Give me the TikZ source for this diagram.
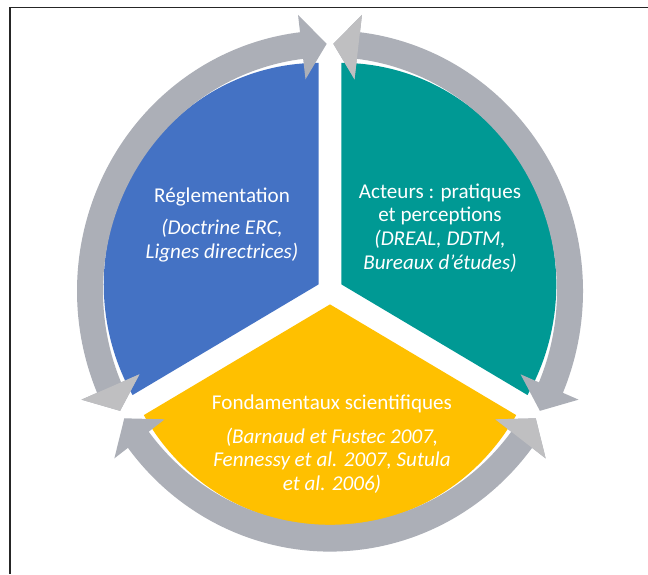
\documentclass[tikz,border=0pt]{standalone}
\usepackage{fontspec}
\setmainfont{Carlito}
\definecolor{regblue}{RGB}{68,114,196}
\definecolor{actteal}{RGB}{0,153,148}
\definecolor{fondyellow}{RGB}{255,192,0}
\definecolor{ringgray}{RGB}{172,175,183}
\definecolor{headgray}{RGB}{191,191,193}
\newcommand\ringarc[2]{%
  \fill[ringgray] (#1:240) -- (#1+6:270) -- (#1+6:253)
    arc[start angle=#1+6, end angle=#2-6, radius=253]
    -- (#2-6:270) -- (#2:240) -- (#2-6:207) -- (#2-6:227)
    arc[start angle=#2-6, end angle=#1+6, radius=227]
    -- (#1+6:207) -- cycle;
  \fill[headgray] (#2-6:270) -- (#2:240) -- (#2-6:207) -- cycle;}
\newcommand\piepart[3]{%
  \fill[#3] (#1/2+#2/2:13) -- ++(#1:215)
    arc[start angle=#1, end angle=#2, radius=215] -- cycle;}

\begin{document}
\begin{tikzpicture}[x=0.02cm, y=0.02cm,
  label/.style={text=white, align=center, font=\fontsize{12pt}{13.5pt}\selectfont}]
  \useasboundingbox (0,0) rectangle (648,574);
  \fill[white] (0,0) rectangle (648,574);
  \draw[line width=1.1pt, black!85] (648,566.5) -- (10,566.5) -- (10,0);

  \begin{scope}[shift={(330,283)}, yscale=1.03]
    \coordinate (c) at (0,0);
    \piepart{90}{210}{regblue}
    \piepart{-30}{90}{actteal}
    \piepart{210}{330}{fondyellow}
    \ringarc{90.8}{209}
    \ringarc{-29}{89.2}
    \ringarc{211}{329}
  \end{scope}

  \node[label] (reg) at (222,349)
    {Réglementation\\[5pt]\textit{(Doctrine ERC,}\\\textit{Lignes directrices)}};
  \node[label] (act) at (440,346)
    {Acteurs : pratiques\\et perceptions\\\textit{(DREAL, DDTM,}\\\textit{Bureaux d’études)}};
  \node[label] (fond) at (332,130)
    {Fondamentaux scientifiques\\[6pt]\textit{(Barnaud et Fustec 2007,}\\\textit{Fennessy et al. 2007, Sutula}\\\textit{et al. 2006)}};
\end{tikzpicture}
\end{document}
